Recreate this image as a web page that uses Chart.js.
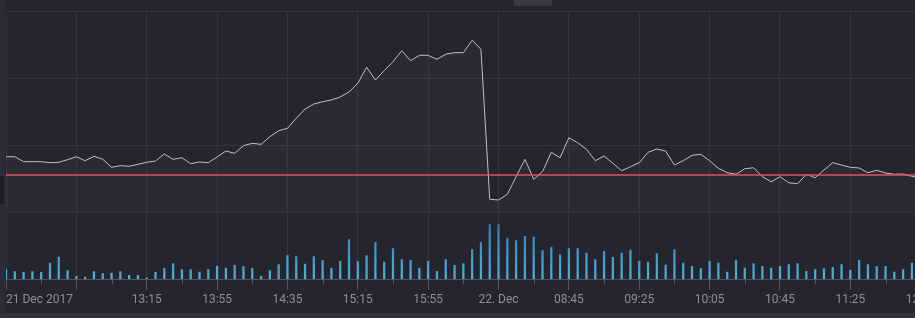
<!DOCTYPE html>
<html>
<head>
<meta charset="utf-8">
<script src="https://cdn.jsdelivr.net/npm/chart.js@4.4.1/dist/chart.umd.min.js"></script>
<style>
  html, body { margin: 0; padding: 0; background: #26252e; overflow: hidden; width: 915px; height: 318px; }
  #wrap { position: relative; width: 935px; height: 313px; }
  #stripLeft { position: absolute; left: 0; top: 0; width: 5px; height: 313px; background: #2d2c36; }
  #tag { position: absolute; left: 0; top: 176px; width: 4px; height: 28px; background: #1e1d25; }
  #stripBottom { position: absolute; left: 0; top: 313px; width: 915px; height: 5px; background: #34333d; }
  #btnTop { position: absolute; left: 514px; top: 0; width: 38px; height: 6px; background: #393843; }
</style>
</head>
<body>
<div id="wrap">
  <canvas id="chart" width="935" height="313"></canvas>
  <div id="stripLeft"></div>
  <div id="tag"></div>
  <div id="btnTop"></div>
</div>
<div id="stripBottom"></div>
<script>
// ── Data (one point every 5 minutes, ordinal axis) ───────────────────────────

const PRICE = [
    82.5, 82.5, 75.1, 75.1, 75.1, 73.6, 74.2, 78.1, 82.5, 76.6,
    83.1, 78.7, 66.7, 69.1, 68.2, 71.2, 74.2, 76.1, 86.6, 78.7,
    81.0, 72.1, 74.6, 73.6, 82.1, 91.0, 87.6, 99.0, 102.5, 101.0,
    112.4, 121.3, 124.9, 139.9, 153.7, 161.2, 164.6, 167.2, 171.6, 179.1,
    192.1, 216.0, 197.0, 210.9, 224.3, 240.7, 225.8, 233.9, 233.9, 227.9,
    235.4, 237.8, 237.8, 256.3, 242.8, 19.0, 17.9, 26.4, 52.7, 78.7,
    48.8, 60.1, 89.1, 81.0, 110.9, 103.4, 93.6, 76.6, 83.6, 72.7,
    61.6, 67.6, 73.6, 89.1, 94.0, 91.0, 70.1, 76.6, 84.6, 86.1,
    76.6, 65.2, 58.7, 56.3, 64.6, 66.1, 52.7, 45.2, 52.7, 43.7,
    42.2, 56.3, 51.2, 62.7, 73.6, 70.1, 66.7, 65.7, 58.7, 62.2,
    58.2, 56.3, 56.7, 53.3, 51.5,
];

const VOLUME = [
    93, 73, 66, 73, 66, 160, 220, 83, 26, 20,
    73, 53, 60, 73, 36, 36, 10, 66, 106, 153,
    93, 93, 70, 93, 130, 110, 136, 123, 106, 26,
    83, 143, 236, 223, 150, 223, 183, 110, 176, 393,
    173, 233, 366, 170, 303, 193, 186, 110, 176, 76,
    193, 136, 153, 293, 366, 543, 543, 406, 383, 426,
    420, 283, 320, 243, 303, 303, 260, 193, 276, 216,
    260, 290, 176, 170, 253, 140, 293, 160, 126, 103,
    176, 160, 70, 190, 110, 153, 126, 110, 126, 143,
    153, 76, 93, 103, 116, 143, 86, 186, 143, 123,
    126, 70, 93, 160, 100,
];

const PREV_CLOSE = 55.2;

const TICK_POS = [0, 8, 16, 24, 32, 40, 48, 56, 64, 72, 80, 88, 96, 104];
const TICK_TEXT = [
    "21 Dec 2017", "", "13:15", "13:55", "14:35", "15:15", "15:55",
    "22. Dec", "08:45", "09:25", "10:05", "10:45", "11:25", "12:05",
];

// ── Styling ──────────────────────────────────────────────────────────────────

const GRID = "#35343e";
const AXIS = "#55545f";
const TEXT = "#8e8d98";
const FONT = { family: "Roboto", size: 12 };

function labelFor(v) {
    const i = TICK_POS.indexOf(v);
    if (i <= 0) return "";   // first label is drawn left-aligned by plugin
    return TICK_TEXT[i];
}

function volumeFill(ctx) {
    const chart = ctx.chart;
    if (!chart.chartArea) return "#3a8cc4";
    const v = chart.scales.v;
    const g = chart.ctx.createLinearGradient(0, v.getPixelForValue(560), 0, v.getPixelForValue(0));
    g.addColorStop(0, "#3378b6");
    g.addColorStop(1, "#48b2da");
    return g;
}

// first date label (left-aligned) and short minor ticks
const axisExtras = {
    id: "axisExtras",
    afterDraw(chart) {
        const s = chart.scales.x;
        const c = chart.ctx;
        c.save();
        c.strokeStyle = AXIS;
        c.lineWidth = 1;
        for (let v = 4; v <= 104; v += 8) {
            const px = Math.round(s.getPixelForValue(v)) + 0.5;
            c.beginPath();
            c.moveTo(px, s.top);
            c.lineTo(px, s.top + 5);
            c.stroke();
        }
        c.fillStyle = TEXT;
        c.font = `${FONT.size}px ${FONT.family}`;
        c.textAlign = "left";
        c.textBaseline = "middle";
        c.fillText(TICK_TEXT[0], s.getPixelForValue(TICK_POS[0]), s.top + 11 + 3 + 7.2);
        c.restore();
    },
};

const idx = PRICE.map((_, i) => i);

new Chart(document.getElementById("chart"), {
    type: "bar",
    data: {
        datasets: [
            {
                type: "line",
                label: "Prev close",
                data: [{ x: 0, y: PREV_CLOSE }, { x: 104, y: PREV_CLOSE }],
                borderColor: "#d9545f",
                borderWidth: 1.5,
                pointRadius: 0,
                yAxisID: "y",
            },
            {
                type: "line",
                label: "Price",
                data: idx.map(i => ({ x: i, y: PRICE[i] })),
                borderColor: "#bfbfc6",
                borderWidth: 1,
                pointRadius: 0,
                tension: 0,
                fill: { value: 0 },
                backgroundColor: "rgba(255,255,255,0.025)",
                yAxisID: "y",
            },
            {
                label: "Volume",
                data: idx.map(i => ({ x: i, y: VOLUME[i] })),
                backgroundColor: volumeFill,
                barThickness: 1.6,
                yAxisID: "v",
            },
        ],
    },
    options: {
        responsive: false,
        animation: false,
        layout: { padding: { top: 11, left: 6, right: 935 - 920.7, bottom: 0 } },
        plugins: { legend: { display: false }, tooltip: { enabled: false } },
        scales: {
            x: {
                type: "linear",
                offset: false,
                min: 0,
                max: 104,
                border: { color: AXIS },
                grid: {
                    offset: false,
                    color: ctx => (ctx.tick && ctx.tick.value % 8 === 0 ? GRID : "transparent"),
                    tickColor: ctx => (ctx.tick && ctx.tick.value % 8 === 0 ? AXIS : "transparent"),
                    tickLength: 11,
                },
                ticks: {
                    stepSize: 4,
                    autoSkip: false,
                    maxRotation: 0,
                    padding: 3,
                    color: TEXT,
                    font: FONT,
                    callback: v => labelFor(v),
                },
                afterFit(s) {
                    s.paddingLeft = 0;
                    s.paddingRight = 0;
                    s.height = 34;
                },
            },
            y: {
                position: "left",
                min: -100,
                max: 300,
                border: { display: false },
                grid: { color: GRID, drawTicks: false },
                ticks: { display: false, stepSize: 100 },
                afterFit(s) { s.width = 0; },
            },
            v: {
                display: false,
                min: 0,
                max: 2680,
            },
        },
    },
    plugins: [axisExtras],
});
</script>
</body>
</html>
